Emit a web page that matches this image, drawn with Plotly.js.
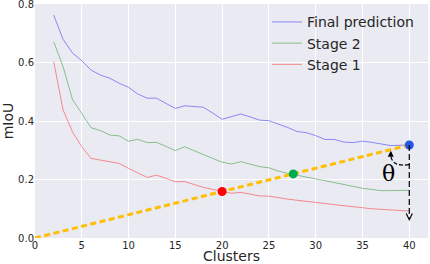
<!DOCTYPE html>
<html><head><meta charset="utf-8">
<script src="https://cdn.plot.ly/plotly-3.0.1.min.js"></script>
<style>html,body{margin:0;padding:0;background:#fff}</style>
</head><body><div id="chart" style="width:430px;height:264px"></div>
<script>
const clusters = [2,3,4,5,6,7,8,9,10,11,12,13,14,15,16,17,18,19,20,21,22,23,24,25,26,27,28,29,30,31,32,33,34,35,36,37,38,39,40];
const finalPrediction = [0.762,0.679,0.633,0.606,0.574,0.557,0.546,0.529,0.515,0.492,0.478,0.478,0.460,0.443,0.452,0.449,0.447,0.427,0.406,0.415,0.424,0.414,0.403,0.401,0.390,0.378,0.364,0.360,0.350,0.337,0.337,0.328,0.326,0.331,0.327,0.322,0.316,0.317,0.318];
const stage2 = [0.671,0.586,0.474,0.426,0.377,0.367,0.352,0.349,0.331,0.337,0.326,0.327,0.313,0.299,0.312,0.298,0.284,0.272,0.259,0.253,0.261,0.252,0.244,0.240,0.229,0.221,0.214,0.208,0.202,0.196,0.189,0.183,0.176,0.170,0.166,0.162,0.162,0.162,0.163];
const stage1 = [0.603,0.438,0.363,0.312,0.272,0.267,0.261,0.255,0.238,0.223,0.207,0.215,0.203,0.192,0.193,0.183,0.173,0.166,0.159,0.153,0.156,0.150,0.144,0.143,0.137,0.133,0.129,0.126,0.122,0.118,0.114,0.110,0.106,0.103,0.100,0.098,0.096,0.094,0.092];
const seriesNames = ["Final prediction","Stage 2","Stage 1"];
const pointX = [20, 27.6, 40];
const pointY = [0.159, 0.219, 0.318];
const pointColors = ["#ff0000","#00aa4f","#2257e8"];
const xTicks = [0,5,10,15,20,25,30,35,40];
const yTicks = [0,0.2,0.4,0.6,0.8];
const yTickText = ["0.0","0.2","0.4","0.6","0.8"];

const font = {family:"DejaVu Sans", color:"#262626"};
const traces = [
  {x:clusters, y:finalPrediction, name:seriesNames[0], mode:"lines", line:{color:"rgba(0,0,255,0.42)", width:1}},
  {x:clusters, y:stage2, name:seriesNames[1], mode:"lines", line:{color:"rgba(0,128,0,0.42)", width:1}},
  {x:clusters, y:stage1, name:seriesNames[2], mode:"lines", line:{color:"rgba(255,0,0,0.42)", width:1}},
  {x:[0, pointX[2]], y:[0, pointY[2]], mode:"lines", showlegend:false, line:{color:"#ffbf00", width:3, dash:"6px,3.5px"}},
  {x:pointX, y:pointY, mode:"markers", showlegend:false, marker:{color:pointColors, size:9}}
];
const tipX = pointX[2];
const layout = {
  width:430, height:264,
  margin:{l:35, r:2, t:4, b:26},
  paper_bgcolor:"#ffffff", plot_bgcolor:"#eaeaf2",
  font:font,
  showlegend:true,
  legend:{x:0.977, xanchor:"right", y:0.99, yanchor:"top", bgcolor:"rgba(0,0,0,0)", font:{family:"DejaVu Sans", size:14, color:"#262626"}},
  xaxis:{range:[0,42], tickvals:xTicks, ticktext:xTicks.map(String), showgrid:true, gridcolor:"#ffffff", gridwidth:1, zeroline:false, showline:false, ticks:"", tickfont:{family:"DejaVu Sans", size:10, color:"#262626"}, title:{text:"Clusters", font:{family:"DejaVu Sans", size:14, color:"#262626"}, standoff:5}},
  yaxis:{range:[0,0.8], tickvals:yTicks, ticktext:yTickText, ticklabeloverflow:"allow", showgrid:true, gridcolor:"#ffffff", gridwidth:1, zeroline:false, showline:false, ticks:"", tickfont:{family:"DejaVu Sans", size:10, color:"#262626"}, title:{text:"mIoU", font:{family:"DejaVu Sans", size:14, color:"#262626"}, standoff:4}},
  shapes:[
    {type:"line", xref:"x", yref:"y", x0:tipX, y0:pointY[2], x1:tipX, y1:0.07, line:{color:"#000", width:1.2, dash:"6px,3px"}},
    {type:"path", xref:"x", yref:"y", path:"M 39.98,0.2506 Q 38.13,0.2421 38.02,0.283", line:{color:"#000", width:1.2, dash:"4px,2px"}}
  ],
  annotations:[
    {x:tipX, y:0.058, ax:tipX, ay:0.075, xref:"x", yref:"y", axref:"x", ayref:"y", text:"", showarrow:true, arrowhead:5, arrowsize:1, arrowwidth:1.2, arrowcolor:"#000"},
    {x:38.02, y:0.2985, ax:38.02, ay:0.283, xref:"x", yref:"y", axref:"x", ayref:"y", text:"", showarrow:true, arrowhead:2, arrowsize:1, arrowwidth:1.2, arrowcolor:"#000"},
    {x:37.73, y:0.221, xref:"x", yref:"y", text:"θ", showarrow:false, font:{family:"DejaVu Serif", size:22, color:"#000"}}
  ]
};
Plotly.newPlot("chart", traces, layout, {displayModeBar:false, staticPlot:true});
</script>
</body></html>
